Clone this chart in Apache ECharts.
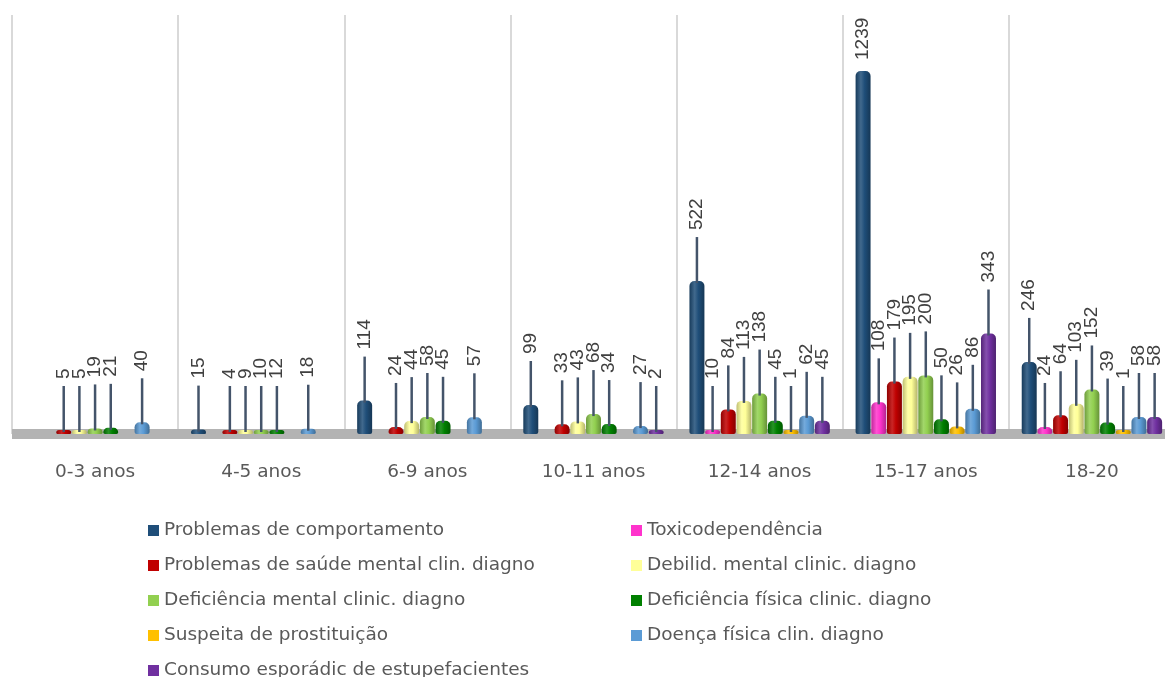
<!DOCTYPE html>
<html>
<head>
<meta charset="utf-8">
<script src="https://cdn.jsdelivr.net/npm/echarts@6/dist/echarts.min.js"></script>
<style>
html,body{margin:0;padding:0;background:#fff;overflow:hidden;width:1165px;height:677px;}
#c{width:1175px;height:677px;}
</style>
</head>
<body>
<div id="c"></div>
<script>
const categories = ['0-3 anos','4-5 anos','6-9 anos','10-11 anos','12-14 anos','15-17 anos','18-20'];
const seriesNames = [
  'Problemas de comportamento',
  'Toxicodependência',
  'Problemas de saúde mental clin. diagno',
  'Debilid. mental clinic. diagno',
  'Deficiência mental clinic. diagno',
  'Deficiência física clinic. diagno',
  'Suspeita de prostituição',
  'Doença física clin. diagno',
  'Consumo esporádic de estupefacientes'
];
const comportamento = [null, 15, 114, 99, 522, 1239, 246];
const toxicodependencia = [null, null, null, null, 10, 108, 24];
const saudeMental = [5, 4, 24, 33, 84, 179, 64];
const debilidMental = [5, 9, 44, 43, 113, 195, 103];
const deficienciaMental = [19, 10, 58, 68, 138, 200, 152];
const deficienciaFisica = [21, 12, 45, 34, 45, 50, 39];
const prostituicao = [null, null, null, null, 1, 26, 1];
const doencaFisica = [40, 18, 57, 27, 62, 86, 58];
const consumo = [null, null, null, 2, 45, 343, 58];

const seriesValues = [comportamento, toxicodependencia, saudeMental, debilidMental,
  deficienciaMental, deficienciaFisica, prostituicao, doencaFisica, consumo];
const colors = ['#1F4E79','#FF33CC','#C00000','#FFFF99','#92D050','#008000','#FFC000','#5B9BD5','#7030A0'];

function shade(hex, f) {
  const n = parseInt(hex.slice(1), 16);
  let r = (n >> 16) & 255, g = (n >> 8) & 255, b = n & 255;
  const t = f < 0 ? 0 : 255, p = Math.abs(f);
  r = Math.round((t - r) * p + r);
  g = Math.round((t - g) * p + g);
  b = Math.round((t - b) * p + b);
  return 'rgb(' + r + ',' + g + ',' + b + ')';
}
function cyl(hex) {
  return new echarts.graphic.LinearGradient(0, 0, 1, 0, [
    {offset: 0, color: shade(hex, -0.25)},
    {offset: 0.35, color: shade(hex, 0.15)},
    {offset: 0.6, color: hex},
    {offset: 1, color: shade(hex, -0.3)}
  ]);
}

const LABEL_FONT = '"Liberation Sans", Arial, sans-serif';
const TEXT_FONT = '"DejaVu Sans", Verdana, sans-serif';
const LEADER = 46;
const YMAX = 1430;

const series = seriesNames.map((name, i) => ({
  name: name,
  type: 'bar',
  data: seriesValues[i],
  barGap: '4.7%',
  barCategoryGap: '15.5%',
  barMinHeight: 4,
  itemStyle: { color: cyl(colors[i]), borderRadius: [5, 5, 2, 2] },
  label: {
    show: true,
    position: 'top',
    rotate: 90,
    align: 'left',
    verticalAlign: 'middle',
    distance: -2,
    // the tallest bar has no room for a long leader line: a short gap instead
    formatter: p => ((YMAX - p.value) / YMAX < 0.2 ? '{s| }' : '{l| }') + '{v|' + p.value + '}',
    rich: {
      l: { width: LEADER, height: 2.5, backgroundColor: '#44546A', verticalAlign: 'middle' },
      s: { width: 6, height: 2, backgroundColor: 'transparent', verticalAlign: 'middle' },
      v: { fontSize: 19, color: '#404040', fontFamily: LABEL_FONT, padding: [0, 0, 0, 7], verticalAlign: 'middle' }
    }
  }
}));

const legendBase = {
  orient: 'vertical', top: 521, padding: 0, height: 200,
  itemWidth: 11, itemHeight: 11, itemGap: 16, icon: 'rect',
  textStyle: { fontSize: 18.5, color: '#595959', fontFamily: TEXT_FONT }
};
const legendItems = idx => idx.map(i => ({ name: seriesNames[i], itemStyle: { color: colors[i] } }));

const chart = echarts.init(document.getElementById('c'));
chart.setOption({
  animation: false,
  backgroundColor: '#ffffff',
  color: colors,
  grid: { left: 12, right: 0, top: 15, bottom: 243, containLabel: false },
  legend: [
    Object.assign({}, legendBase, { left: 148, data: legendItems([0, 2, 4, 6, 8]) }),
    Object.assign({}, legendBase, { left: 631, data: legendItems([1, 3, 5, 7]) })
  ],
  xAxis: {
    type: 'category',
    data: categories,
    axisLine: { show: true, lineStyle: { color: '#b3b3b3', width: 10, cap: 'butt' } },
    axisTick: { show: false },
    axisLabel: { margin: 29, fontSize: 18.5, color: '#595959', fontFamily: TEXT_FONT },
    splitLine: { show: true, lineStyle: { color: '#d9d9d9', width: 2 } }
  },
  yAxis: {
    type: 'value',
    min: 0,
    max: YMAX,
    show: false,
    splitLine: { show: false }
  },
  series: series
});
</script>
</body>
</html>
